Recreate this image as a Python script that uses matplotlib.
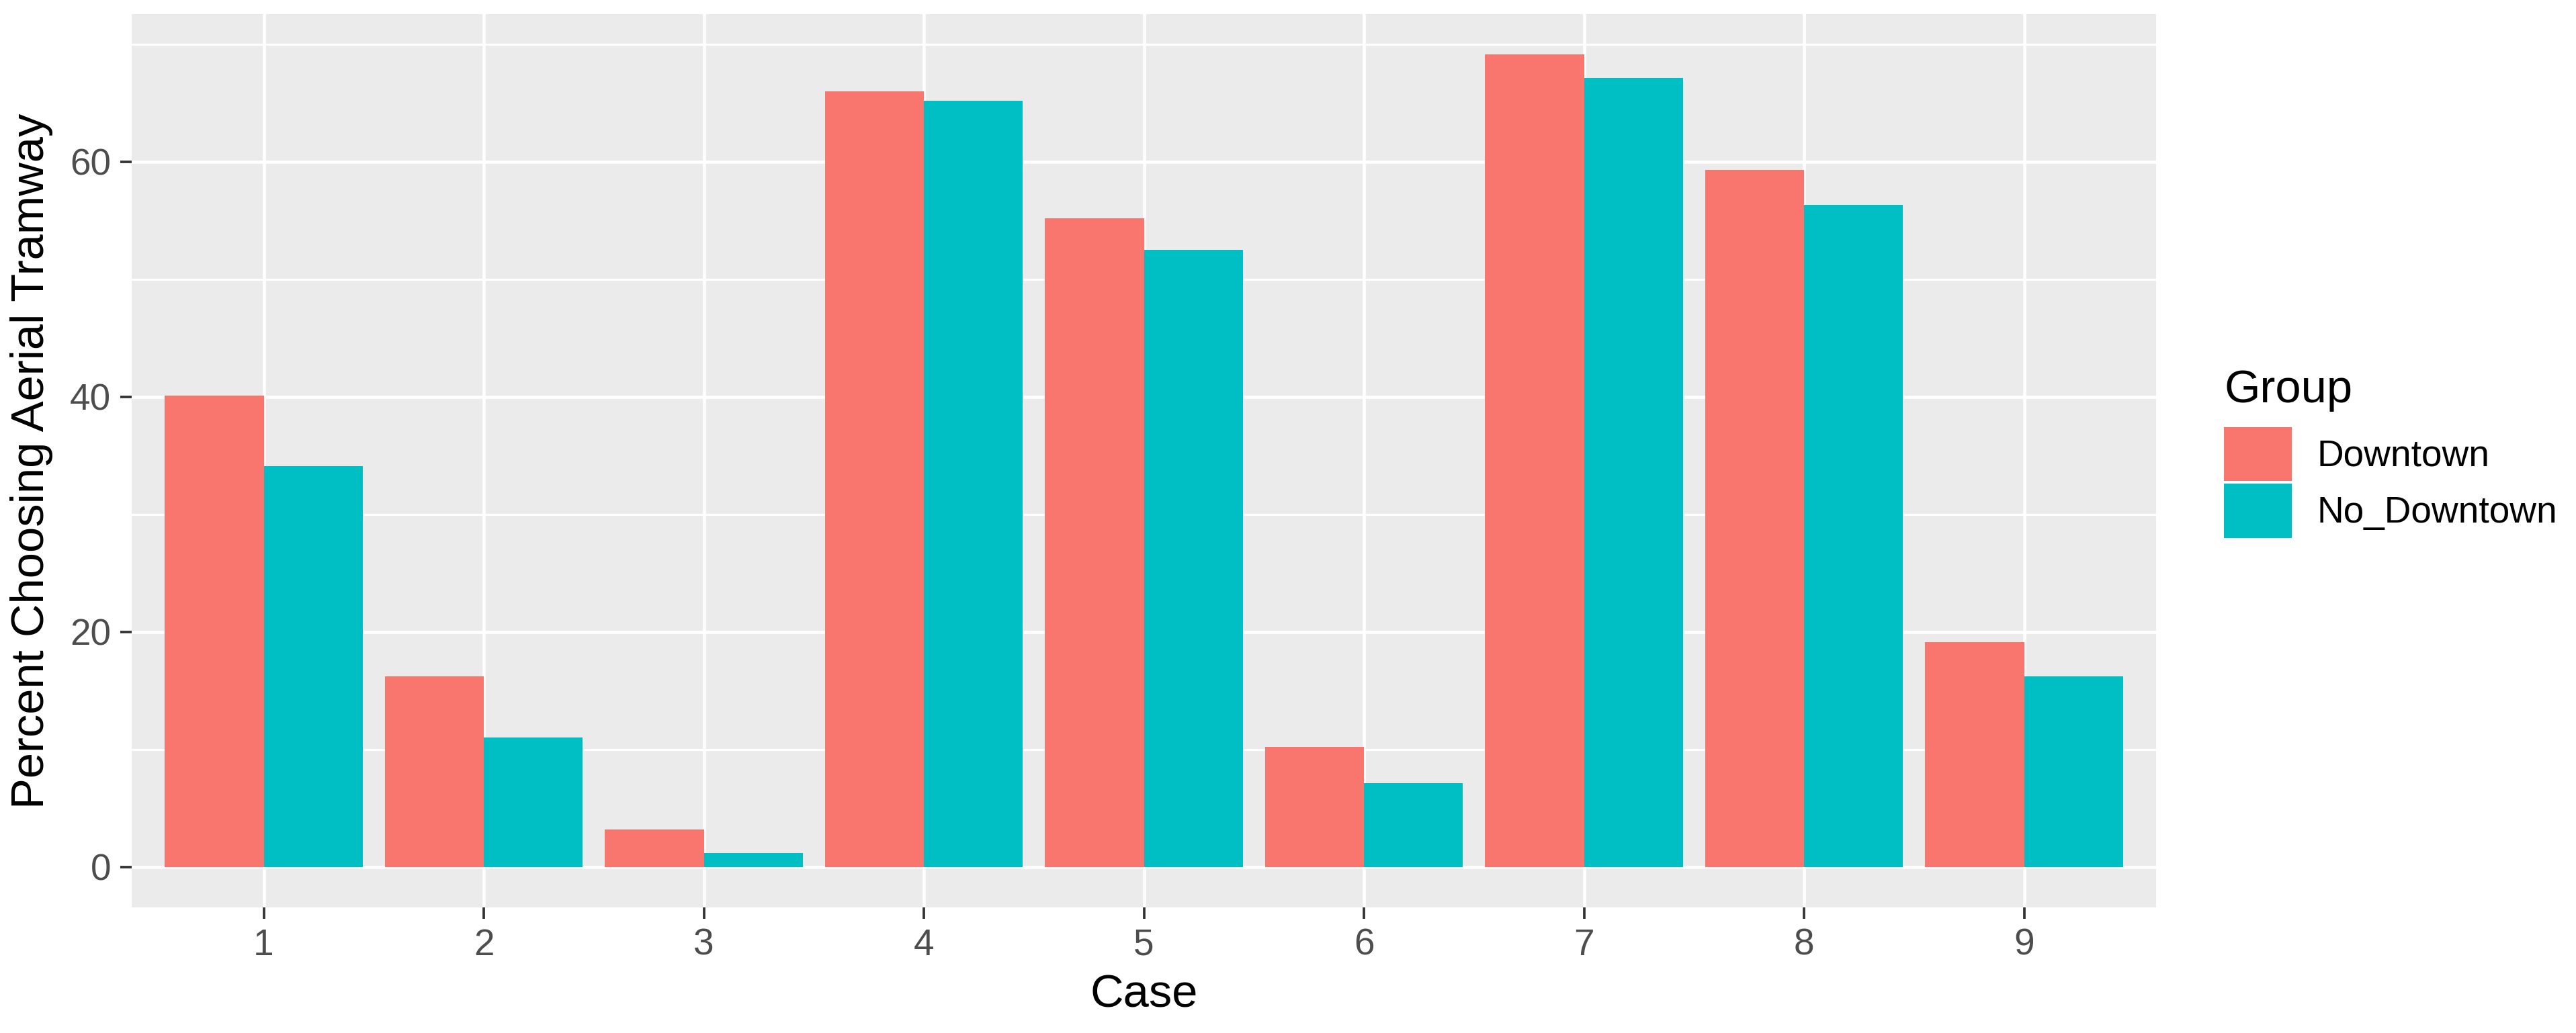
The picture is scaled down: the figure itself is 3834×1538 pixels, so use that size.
import numpy as np
import matplotlib
matplotlib.use("Agg")
import matplotlib.pyplot as plt
from matplotlib.ticker import MultipleLocator

plt.rcParams['font.family'] = ['Liberation Sans', 'DejaVu Sans']

# values
cases = ['1', '2', '3', '4', '5', '6', '7', '8', '9']
groups = ['Downtown', 'No_Downtown']
downtown = [40.1, 16.2, 3.2, 66.0, 55.2, 10.2, 69.1, 59.3, 19.1]
no_downtown = [34.1, 11.0, 1.15, 65.2, 52.5, 7.1, 67.1, 56.3, 16.2]
colors = ['#F8766D', '#00BFC4']

DPI = 450
W, H = 3834, 1538
fig = plt.figure(figsize=(W / DPI, H / DPI), dpi=DPI)
# panel box in pixels: left 196, right 3209, top 21, bottom 1351
ax = fig.add_axes([196 / W, 1 - 1351 / H, (3209 - 196) / W, (1351 - 21) / H])
ax.set_facecolor('#EBEBEB')

x = np.arange(1, len(cases) + 1)
width = 0.45
bars = []
for i, (vals, col) in enumerate(zip([downtown, no_downtown], colors)):
    b = ax.bar(x - width / 2 + i * width, vals, width=width, color=col,
               linewidth=0, zorder=3, label=groups[i])
    bars.append(b)

ymax = max(max(downtown), max(no_downtown))
ax.set_ylim(-0.05 * ymax, 1.05 * ymax)
ax.set_xlim(0.4, len(cases) + 0.6)

ax.yaxis.set_major_locator(MultipleLocator(20))
ax.yaxis.set_minor_locator(MultipleLocator(10))
ax.set_xticks(x)
ax.set_xticklabels(cases)

ax.grid(which='major', color='white', linewidth=0.75, zorder=1)
ax.grid(which='minor', axis='y', color='white', linewidth=0.5, zorder=1)
ax.set_axisbelow(True)
for s in ax.spines.values():
    s.set_visible(False)

ax.tick_params(which='major', length=2.75, width=0.6, color='#333333',
               labelcolor='#4D4D4D', labelsize=8.8, pad=2.2)
ax.tick_params(which='minor', length=0)

ax.set_xlabel('Case', fontsize=11, color='black', labelpad=2.5)
ax.set_ylabel('Percent Choosing Aerial Tramway', fontsize=11, color='black', labelpad=4)

# legend: title drawn separately so the gap to the keys matches ggplot
fig.text(3310 / W, 1 - 599 / H, 'Group', fontsize=11, ha='left', va='baseline')
leg = fig.legend(handles=bars, labels=groups, loc='upper left',
                 bbox_to_anchor=(3310 / W, 1 - 636 / H), frameon=False,
                 fontsize=8.8, handlelength=1.84, handleheight=1.87,
                 handletextpad=0.67, labelspacing=0.075,
                 borderaxespad=0, borderpad=0)

fig.savefig('out.png', dpi=DPI, facecolor='white')
